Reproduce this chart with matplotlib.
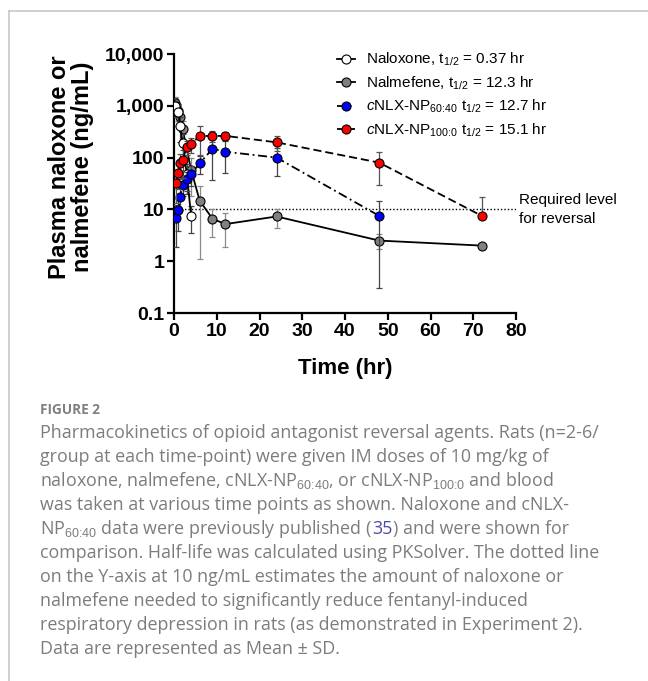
import matplotlib
matplotlib.use('Agg')
import matplotlib.pyplot as plt
from matplotlib.lines import Line2D
from matplotlib.ticker import NullLocator

plt.rcParams['font.family'] = ['Liberation Sans', 'DejaVu Sans']
plt.rcParams['mathtext.fontset'] = 'custom'
plt.rcParams['mathtext.rm'] = 'Liberation Sans'
plt.rcParams['mathtext.it'] = 'Liberation Sans:italic'
plt.rcParams['mathtext.bf'] = 'Liberation Sans:bold'

# data (mean, SD)
nlx_t = [0.25, 1, 1.5, 2, 3, 4]
nlx_mean = [1000, 750, 400, 190, 48, 7.5]
nlx_sd = [400, 350, 200, 90, 28, 4]

nmf_t = [0.25, 0.5, 1, 1.5, 2, 4, 6, 9, 12, 24, 48, 72]
nmf_mean = [1150, 1000, 800, 600, 360, 58, 14.8, 6.6, 5.2, 7.3, 2.5, 2.0]
nmf_sd = [300, 350, 300, 250, 150, 40, 13.7, 3.7, 3.3, 3.0, 0.8, 0]

np60_t = [0.5, 1, 1.5, 2, 3, 4, 6, 9, 12, 24, 48]
np60_mean = [6.9, 9.8, 17.6, 30, 38, 48, 78, 147, 130, 100, 7.5]
np60_sd = [5, 6, 8, 12, 15, 20, 30, 110, 80, 55, 7.2]

np100_t = [0.5, 1, 1.5, 2, 3, 4, 6, 9, 12, 24, 48, 72]
np100_mean = [33, 50, 78, 90, 162, 183, 263, 261, 263, 197, 80, 7.5]
np100_sd = [20, 25, 40, 50, 50, 60, 150, 65, 45, 65, 50, 10]

labels = ['Naloxone, t$_{\\mathrm{1/2}}$ = 0.37 hr',
          'Nalmefene, t$_{\\mathrm{1/2}}$ = 12.3 hr',
          '$\\mathit{c}$NLX-NP$_{\\text{60:40}}$ t$_{\\mathrm{1/2}}$ = 12.7 hr',
          '$\\mathit{c}$NLX-NP$_{\\text{100:0}}$ t$_{\\mathrm{1/2}}$ = 15.1 hr']

y_ticks = [0.1, 1, 10, 100, 1000, 10000]
y_tick_labels = ['0.1', '1', '10', '100', '1,000', '10,000']
x_ticks = [0, 10, 20, 30, 40, 50, 60, 70, 80]

caption_lines = [
    'Pharmacokinetics of opioid antagonist reversal agents. Rats (n=2-6/',
    'group at each time-point) were given IM doses of 10 mg/kg of',
    'naloxone, nalmefene, cNLX-NP$_{\\text{60:40}}$, or cNLX-NP$_{\\text{100:0}}$ and blood',
    'was taken at various time points as shown. Naloxone and cNLX-',
    None,
    'comparison. Half-life was calculated using PKSolver. The dotted line',
    'on the Y-axis at 10 ng/mL estimates the amount of naloxone or',
    'nalmefene needed to significantly reduce fentanyl-induced',
    'respiratory depression in rats (as demonstrated in Experiment 2).',
    'Data are represented as Mean \u00b1 SD.',
]
cap_color = '#7c7c7c'
caption_line5 = [('NP$_{\\text{60:40}}$ data were previously published (', cap_color),
                 ('35', '#4a4aa8'),
                 (') and were shown for', cap_color)]

W, H = 648, 681


def draw_series(ax, t, mean, sd, face, ls, ecolor, label, z):
    # GraphPad style: no lower bar when mean - SD would be <= 0 on a log axis
    lower = [s if s < m else 0 for m, s in zip(mean, sd)]
    ax.errorbar(t, mean, yerr=[lower, sd], fmt='none', ecolor=ecolor,
                elinewidth=0.9, capsize=2.5, capthick=0.9, zorder=z)
    line, = ax.plot(t, mean, color='black', ls=ls, lw=1.3, marker='o', ms=6.5,
                    mfc=face, mec='black', mew=0.8, label=label, zorder=z + 0.5)
    return line


fig = plt.figure(figsize=(W / 100, H / 100), dpi=100)
ax = fig.add_axes([174 / W, 1 - 313 / H, 342 / W, 259 / H])

h_nmf = draw_series(ax, nmf_t, nmf_mean, nmf_sd, '#808080', '-', '#8a8a8a', labels[1], 2)
h_nlx = draw_series(ax, nlx_t, nlx_mean, nlx_sd, 'white', '-', '#444444', labels[0], 3)
h_60 = draw_series(ax, np60_t, np60_mean, np60_sd, '#0000ff', (0, (5, 2, 1, 2)), '#444444', labels[2], 4)
h_100 = draw_series(ax, np100_t, np100_mean, np100_sd, '#ff0000', (0, (4.5, 2.2)), '#555555', labels[3], 5)

ax.axhline(10, color='black', ls=(0, (1, 1.5)), lw=1.0, zorder=1)
ax.text(80.6, 10, 'Required level\nfor reversal', fontsize=11, va='center', ha='left',
        clip_on=False, linespacing=1.4)

ax.set_yscale('log')
ax.set_ylim(0.1, 10000)
ax.set_xlim(0, 80)
ax.set_yticks(y_ticks)
ax.set_yticklabels(y_tick_labels)
ax.yaxis.set_minor_locator(NullLocator())
ax.set_xticks(x_ticks)
for side in ['top', 'right']:
    ax.spines[side].set_visible(False)
for side in ['left', 'bottom']:
    ax.spines[side].set_linewidth(1.6)
ax.tick_params(axis='both', length=5, width=1.6, labelsize=14, pad=2)
for lbl in ax.get_xticklabels() + ax.get_yticklabels():
    lbl.set_fontweight('bold')

ax.set_xlabel('Time (hr)', fontsize=16, fontweight='bold', labelpad=13)
fig.text(71 / W, 1 - 167 / H, 'Plasma naloxone or\nnalmefene (ng/mL)', rotation=90,
         ha='center', va='center', multialignment='center', fontsize=17,
         fontweight='bold', linespacing=1.0)

ax.legend([h_nlx, h_nmf, h_60, h_100], labels, loc='upper left',
          bbox_to_anchor=(337 / W, 1 - 51 / H), bbox_transform=fig.transFigure,
          frameon=False, fontsize=11, handlelength=1.15, handletextpad=0.75,
          labelspacing=0.4, borderpad=0, borderaxespad=0)

# light frame around the figure panel
fig.add_artist(Line2D([9 / W, 1], [1 - 11 / H, 1 - 11 / H], transform=fig.transFigure,
                      color='#c8c8c8', lw=1.2))
fig.add_artist(Line2D([9 / W, 9 / W], [0, 1 - 11 / H], transform=fig.transFigure,
                      color='#c8c8c8', lw=1.2))

# caption
cap_font = dict(family=['Open Sans', 'DejaVu Sans'], fontsize=12.9)
fig.text(40 / W, 1 - 414 / H, 'FIGURE 2', family=['Open Sans', 'DejaVu Sans'], fontsize=9.8,
         fontweight='bold', color='#808080', va='baseline')
renderer = fig.canvas.get_renderer()
for i, line in enumerate(caption_lines):
    y = 1 - (437.7 + 24 * i) / H
    if line is not None:
        fig.text(40 / W, y, line, color=cap_color, va='baseline', **cap_font)
    else:
        x = 40 / W
        for piece, col in caption_line5:
            t = fig.text(x, y, piece, color=col, va='baseline', **cap_font)
            x = t.get_window_extent(renderer).x1 / W

fig.savefig('out.png', dpi=100)
